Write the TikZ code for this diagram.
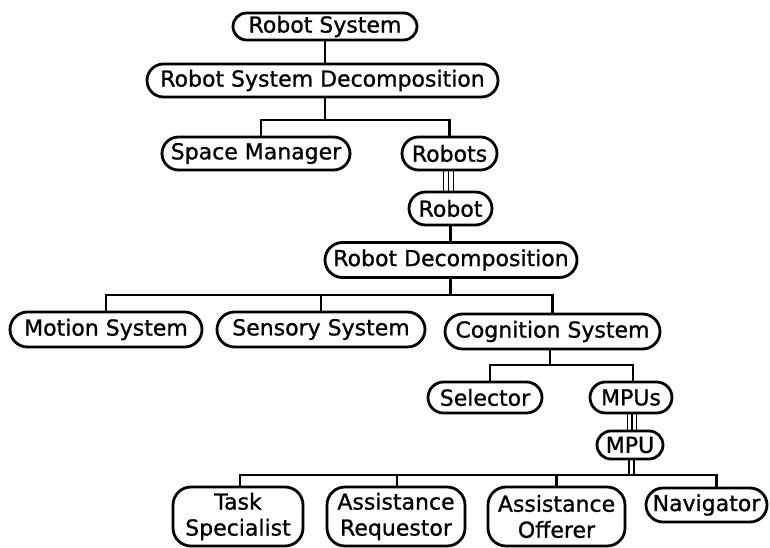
\documentclass[tikz,border=0pt]{standalone}
\usepackage{fontspec}
\newfontfamily\dejavu[FakeBold=1]{DejaVu Sans}
\begin{document}
\begin{tikzpicture}[x=1pt,y=-1pt,
  nb/.style n args={3}{draw, line width=2.8pt, rounded corners=#3, minimum width=#1, minimum height=#2, inner sep=0pt, align=center, font=\dejavu\fontsize{22}{26}\selectfont},
  ln/.style={line width=2.8pt},
  tl/.style={line width=1.8pt}]
\useasboundingbox[fill=white] (0,0) rectangle (770,548);
% nodes
\node[nb={184pt}{27pt}{13.5pt}] (rs) at (325,26.5) {Robot System};
\node[nb={351pt}{33pt}{16.5pt}] (rsd) at (322.5,80.5) {Robot System Decomposition};
\node[nb={188pt}{33pt}{16.5pt}] (sm) at (256,153.5) {Space Manager};
\node[nb={95pt}{33pt}{16.5pt}] (robots) at (449.5,153.5) {Robots};
\node[nb={83pt}{33pt}{16.5pt}] (robot) at (450.5,208.5) {Robot};
\node[nb={252pt}{35pt}{17.5pt}] (rd) at (451,260) {Robot Decomposition};
\node[nb={192pt}{35pt}{17.5pt}] (ms) at (106,329.5) {Motion System};
\node[nb={208pt}{35pt}{17.5pt}] (ss) at (321,329.5) {Sensory System};
\node[nb={215pt}{35pt}{17.5pt}] (cs) at (552.5,331.5) {Cognition System};
\node[nb={114pt}{31pt}{15.5pt}] (sel) at (485,397.5) {Selector};
\node[nb={82pt}{31pt}{15.5pt}] (mpus) at (631,397.5) {MPUs};
\node[nb={66pt}{28pt}{14pt}] (mpu) at (630,445) {MPU};
\node[nb={130pt}{59pt}{18pt}] (ts) at (238,516.5) {Task\\Specialist};
\node[nb={138pt}{59pt}{18pt}] (ar) at (396,516.5) {Assistance\\Requestor};
\node[nb={137pt}{59pt}{18pt}] (ao) at (556.5,516.5) {Assistance\\Offerer};
\node[nb={121pt}{34pt}{17pt}] (nav) at (706.5,505) {Navigator};
% connectors
\coordinate (b1) at (325,120);
\coordinate (b2) at (450.5,295);
\coordinate (b3) at (550,365);
\coordinate (b4) at (632,475);
\draw[ln] (rs.south) -- (rs.south |- rsd.north);
\draw[ln] (rs.south |- rsd.south) -- (b1);
\draw[ln] ([xshift=5pt]sm.north) |- (b1) -| (robots.north);
\foreach \d in {-6,-1,4}{\draw[tl] ([xshift=\d pt]robots.south) -- ([xshift=\d pt]robots.south |- robot.north);}
\draw[ln] (robot.south) -- (robot.south |- rd.north);
\draw[ln] (robot.south |- rd.south) -- (b2);
\draw[ln] (ms.north) |- (b2) -| (cs.north);
\draw[ln] (ss.north) -- (ss.north |- b2);
\draw[ln] ([xshift=-2.5pt]cs.south) -- (b3);
\draw[ln] ([xshift=5pt]sel.north) |- (b3) -| ([xshift=2pt]mpus.north);
\foreach \d in {-3.5,1,5.5}{\draw[tl] ([xshift=\d pt]mpus.south) -- ([xshift=\d pt]mpus.south |- mpu.north);}
\foreach \d in {-1,4}{\draw[tl] ([xshift=\d pt]mpu.south) -- ([xshift=\d pt]mpu.south |- b4);}
\draw[ln] ([xshift=2pt]ts.north) |- (b4) -| ([xshift=10pt]nav.north);
\draw[ln] ([xshift=1pt]ar.north) -- ([xshift=1pt]ar.north |- b4);
\draw[ln] (ao.north) -- (ao.north |- b4);
\end{tikzpicture}
\end{document}
